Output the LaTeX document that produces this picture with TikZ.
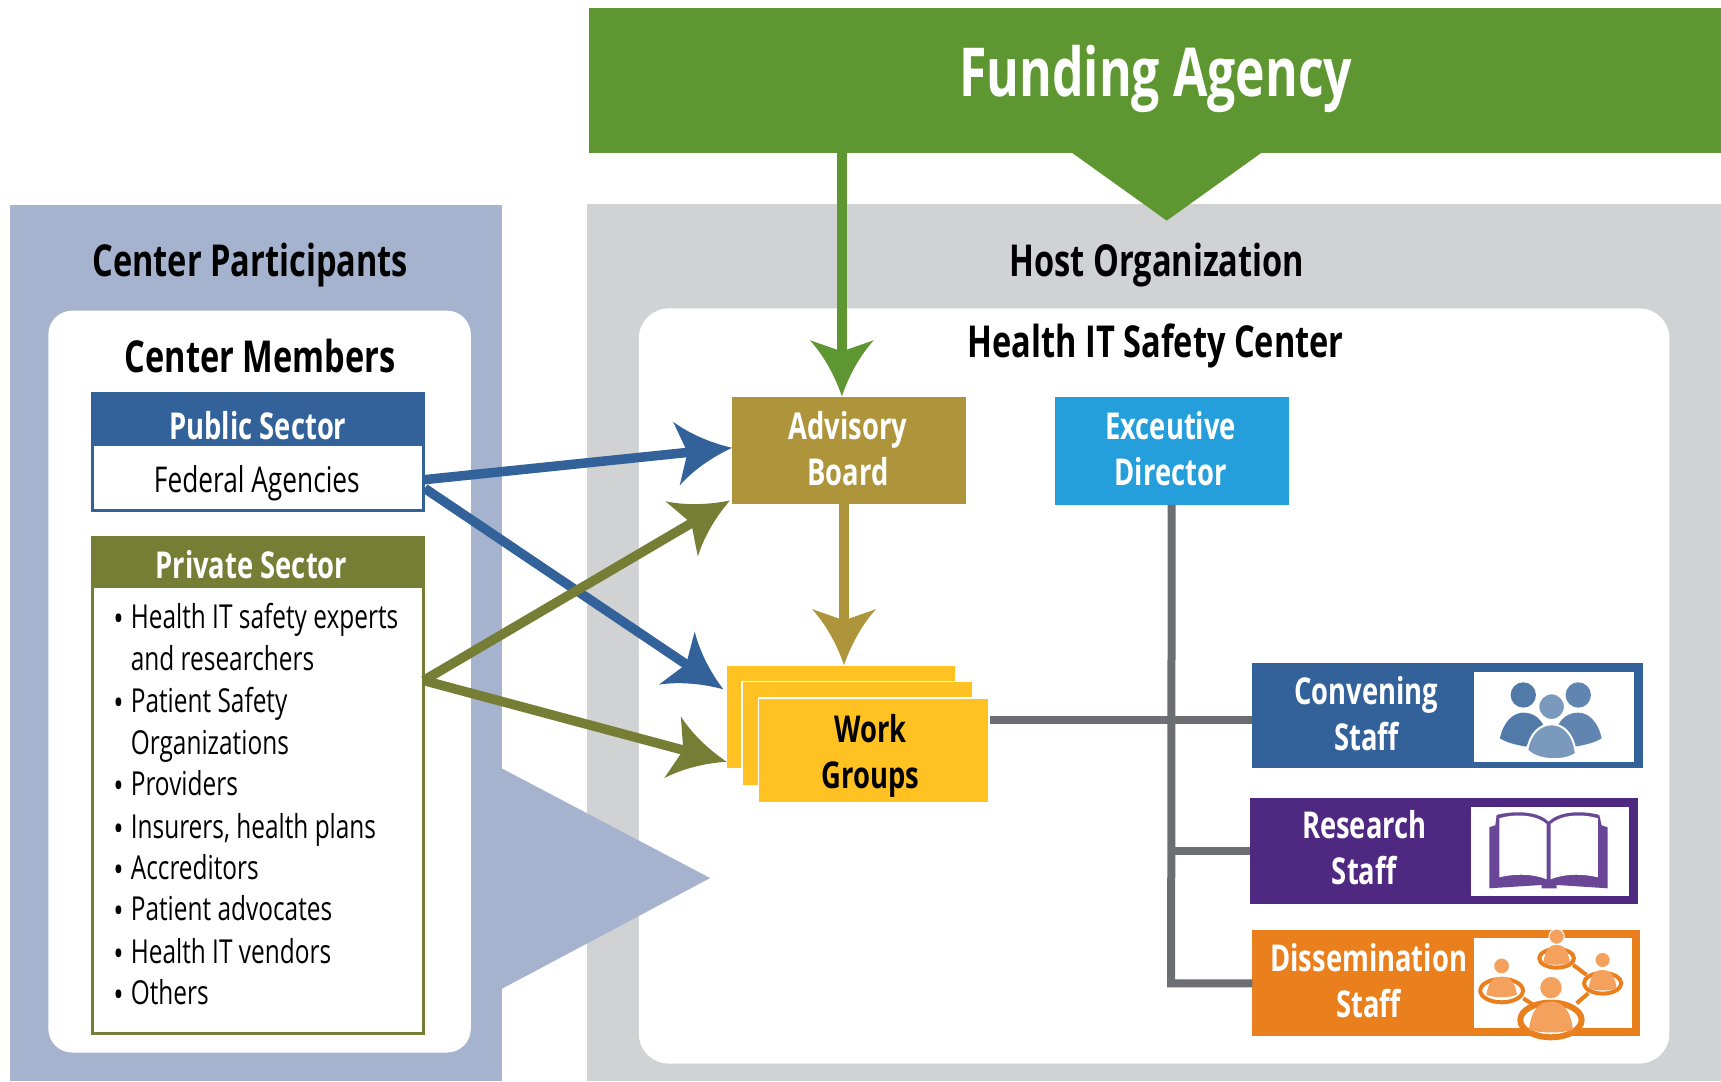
\documentclass[tikz,border=0pt]{standalone}
\usepackage{fontspec}
\setmainfont[FakeStretch=0.74]{Open Sans}
\usetikzlibrary{fit,arrows.meta}
\definecolor{cFund}{HTML}{5E9732}
\definecolor{cHost}{HTML}{D0D2D4}
\definecolor{cPart}{HTML}{A5B3CF}
\definecolor{cBlue}{HTML}{33629A}
\definecolor{cOlive}{HTML}{767D35}
\definecolor{cGold}{HTML}{AE953B}
\definecolor{cSky}{HTML}{259FDB}
\definecolor{cYel}{HTML}{FFC222}
\definecolor{cGray}{HTML}{6D6E71}
\definecolor{cPur}{HTML}{4F2881}
\definecolor{cOr}{HTML}{EA7F1E}
\definecolor{cOrL}{HTML}{F3A15C}
\definecolor{cPurL}{HTML}{6A4796}
\pgfdeclarearrow{
  name=Barb,
  parameters={\the\pgfarrowlength,\the\pgfarrowwidth},
  setup code={
    \pgfarrowssettipend{0pt}
    \pgfarrowssetlineend{-0.72\pgfarrowlength}
    \pgfarrowssetvisualbackend{-0.72\pgfarrowlength}
    \pgfarrowssetbackend{-\pgfarrowlength}
    \pgfarrowssavethe\pgfarrowlength
    \pgfarrowssavethe\pgfarrowwidth
  },
  drawing code={
    \pgfpathmoveto{\pgfpoint{0pt}{0pt}}
    \pgfpathcurveto{\pgfpoint{-0.4\pgfarrowlength}{0.12\pgfarrowwidth}}{\pgfpoint{-0.75\pgfarrowlength}{0.3\pgfarrowwidth}}{\pgfpoint{-\pgfarrowlength}{0.5\pgfarrowwidth}}
    \pgfpathlineto{\pgfpoint{-0.8\pgfarrowlength}{0pt}}
    \pgfpathlineto{\pgfpoint{-\pgfarrowlength}{-0.5\pgfarrowwidth}}
    \pgfpathcurveto{\pgfpoint{-0.75\pgfarrowlength}{-0.3\pgfarrowwidth}}{\pgfpoint{-0.4\pgfarrowlength}{-0.12\pgfarrowwidth}}{\pgfpoint{0pt}{0pt}}
    \pgfpathclose
    \pgfusepathqfill
  },
  defaults={length=56pt,width=64pt}
}
\tikzset{
  panel/.style={inner sep=0pt,outer sep=0pt},
  tbig/.style={font=\bfseries\fontsize{67.5}{80}\selectfont,text=white,inner sep=0pt,anchor=base},
  ttitle/.style={font=\bfseries\fontsize{44}{50}\selectfont,text=black,inner sep=0pt,anchor=base},
  tbox/.style={font=\bfseries\fontsize{37}{46}\selectfont,text=white,inner sep=0pt,align=center},
  thead/.style={font=\bfseries\fontsize{37}{46}\selectfont,text=white,inner sep=0pt,anchor=base},
  tblack/.style={tbox,text=black},
  titem/.style={font=\fontsize{33}{38}\selectfont,text=black,inner sep=0pt,anchor=base west},
  tbul/.style={font=\bfseries\fontsize{28}{38}\selectfont,text=black,inner sep=0pt,anchor=base},
  conn/.style={line width=9.5pt,-{Barb[length=56pt,width=64pt]}},
  trunk/.style={line width=8pt,cGray}
}
\begin{document}
\begin{tikzpicture}[x=1.0976pt,y=-1.0976pt]
\useasboundingbox (0,0) rectangle (1568,985);
% background panels
\node (host) [panel,fill=cHost,fit={(535,186) (1568,985)}] {};
\node (part) [panel,fill=cPart,fit={(9,187) (457,985)}] {};
\node (hsc) [panel,fill=white,rounded corners=30pt,fit={(582,281) (1521,969)}] {};
\node (mem) [panel,fill=white,rounded corners=24pt,fit={(44,283) (429,959)}] {};
\fill[cPart] (457,700) -- (647,800) -- (457,901) -- cycle;
% funding
\node (fund) [panel,fill=cFund,fit={(537,7) (1568,139)}] {};
\fill[cFund] (975,138) -- (1063,201) -- (1151,138) -- cycle;
\node (fundt) [tbig] at (1053,88) {Funding Agency};
% titles
\node (tpart) [ttitle] at (228,252) {Center Participants};
\node (tmem) [ttitle] at (237,339) {Center Members};
\node (thost) [ttitle] at (1054,252) {Host Organization};
\node (thsc) [ttitle] at (1053,326) {Health IT Safety Center};
% public
\node (fed) [panel,fill=white,draw=cBlue,line width=3pt,fit={(84,360) (386,465)}] {};
\node (pubh) [panel,fill=cBlue,fit={(83,357) (387,406)}] {};
\node (pubt) [thead] at (235,400) {Public Sector};
\node (fedt) [titem,anchor=base,font=\fontsize{35.5}{38}\selectfont] at (234,449) {Federal Agencies};
% private
\node (priv) [panel,fill=white,draw=cOlive,line width=3pt,fit={(84,490) (386,942)}] {};
\node (privh) [panel,fill=cOlive,fit={(83,488) (387,536)}] {};
\node (privt) [thead] at (229,527) {Private Sector};
\foreach \i/\y/\t in {1/573/Health IT safety experts,3/649/Patient Safety,5/725/Providers,6/764/{Insurers, health plans},7/801/Accreditors,8/839/Patient advocates,9/878/Health IT vendors,10/915/Others}{
  \node (bu\i) [tbul] at (108,\y) {•};
  \node (li\i) [titem] at (119,\y) {\t};
}
\node (li2) [titem] at (119,611) {and researchers};
\node (li4) [titem] at (119,687) {Organizations};
% board, director
\node (adv) [panel,fill=cGold,fit={(667,362) (880,459)}] {};
\node (advt) [tbox] at (772.5,408.5) {Advisory\\Board};
\node (exec) [panel,fill=cSky,fit={(961,362) (1174,460)}] {};
\node (exect) [tbox] at (1066.5,408.5) {Exceutive\\Director};
% work groups
\node (wg1) [panel,fill=cYel,fit={(662,607) (870,700)}] {};
\node (wg2) [panel,fill=cYel,draw=white,line width=1.5pt,fit={(676,621) (886,716)}] {};
\node (wg3) [panel,fill=cYel,draw=white,line width=1.5pt,fit={(691,636) (901,731)}] {};
\node (wgt) [tblack] at (793,689) {Work\\Groups};
% staff
\node (conv) [panel,fill=cBlue,fit={(1141,604) (1497,700)}] {};
\node (convi) [panel,fill=white,fit={(1343,612) (1489,694)}] {};
\node (convt) [tbox] at (1245,650) {Convening\\Staff};
\node (res) [panel,fill=cPur,fit={(1139,727) (1492,824)}] {};
\node (resi) [panel,fill=white,fit={(1340,735) (1484,816)}] {};
\node (rest) [tbox] at (1243,772) {Research\\Staff};
\node (dis) [panel,fill=cOr,fit={(1141,847) (1494,944)}] {};
\node (disi) [panel,fill=white,fit={(1343,855) (1487,937)}] {};
\node (dist) [tbox] at (1247,893) {Dissemination\\Staff};
% connection points
\coordinate (fout) at (767,139);
\coordinate (fin) at (767,361);
\coordinate (bout) at (769,459);
\coordinate (bin) at (769,606);
\coordinate (pubout1) at (387,437);
\coordinate (pubout2) at (387,445);
\coordinate (privout) at (386,620);
\coordinate (advin1) at (667,408);
\coordinate (advin2) at (665,456);
\coordinate (wgin1) at (659,628);
\coordinate (wgin2) at (662,694);
\coordinate (wgout) at (902,656);
\coordinate (jr) at (1067,775);
\coordinate (jd) at (1067,896);
% connectors
\draw[trunk] (wgout) -- (wgout -| conv.west);
\draw[trunk] (exec.south) -- (jd) -- (jd -| dis.west);
\draw[trunk] (jr) -- (jr -| res.west);
\draw[conn,cFund] (fout) -- (fin);
\draw[conn,cGold] (bout) -- (bin);
\draw[conn,cBlue] (pubout2) -- (wgin1);
\draw[conn,cOlive] (privout) -- (advin2);
\draw[conn,cOlive] (privout) -- (wgin2);
\draw[conn,cBlue] (pubout1) -- (advin1);
% icons drawn in original-pixel/3 coordinates
\begin{scope}[x=0.3333pt,y=-0.3333pt,shift={(1240pt,-650pt)}]
  % people group
  \fill[cBlue!85!white] (850,135) circle[radius=38];
  \fill[cBlue!78!white] (1015,135) circle[radius=38];
  \fill[cBlue!85!white] (780,265) .. controls (790,215) and (820,188) .. (850,188) .. controls (880,188) and (900,205) .. (910,225) -- (858,290) .. controls (830,285) and (800,278) .. (780,265) -- cycle;
  \fill[cBlue!78!white] (1085,265) .. controls (1075,215) and (1045,188) .. (1015,188) .. controls (985,188) and (965,205) .. (955,225) -- (1005,290) .. controls (1035,285) and (1065,278) .. (1085,265) -- cycle;
  \filldraw[fill=cBlue!65!white,draw=white,line width=2pt] (935,170) circle[radius=40];
  \filldraw[fill=cBlue!65!white,draw=white,line width=2pt] (862,300) .. controls (870,250) and (900,223) .. (935,223) .. controls (970,223) and (1000,250) .. (1008,310) .. controls (980,335) and (890,335) .. (862,300) -- cycle;
  % book
  \fill[cPurL] (748,532) -- (766,526) -- (770,495) .. controls (830,480) and (895,485) .. (926,515) .. controls (957,485) and (1022,480) .. (1078,495) -- (1085,526) -- (1103,532) -- (1103,715) -- (950,705) -- (950,715) -- (905,715) -- (905,705) -- (748,715) -- cycle;
  \fill[white] (778,505) .. controls (830,490) and (890,495) .. (920,522) -- (920,688) .. controls (880,672) and (830,670) .. (778,682) -- cycle;
  \fill[white] (1074,505) .. controls (1022,490) and (962,495) .. (932,522) -- (932,688) .. controls (972,672) and (1022,670) .. (1074,682) -- cycle;
  % network
  \draw[cOr,line width=4pt] (1000,945) -- (1040,975) (850,1045) -- (885,1068) (1010,1060) -- (1045,1030);
  \foreach \cx/\hy/\hr/\ry/\rx/\rh/\ww/\bt/\bb/\lw in {
      785/948/24/1022/64/35/46/980/1042/4pt,
      950/860/23/925/52/28/40/885/945/4pt,
      1088/930/23/1000/56/31/42/960/1022/4pt,
      933/1013/34/1110/92/52/66/1055/1148/6pt}{
    \filldraw[fill=white,draw=cOr,line width=\lw] (\cx,\ry) ellipse[x radius=\rx,y radius=\rh];
    \fill[cOrL] (\cx-\ww,\bb-8) .. controls (\cx-\ww+8,\bt+8) and (\cx-20,\bt) .. (\cx,\bt) .. controls (\cx+20,\bt) and (\cx+\ww-8,\bt+8) .. (\cx+\ww,\bb-8) .. controls (\cx+30,\bb+2) and (\cx-30,\bb+2) .. (\cx-\ww,\bb-8) -- cycle;
    \filldraw[fill=cOrL,draw=white,line width=1pt] (\cx,\hy) circle[radius=\hr];
  }
\end{scope}
\end{tikzpicture}
\end{document}
